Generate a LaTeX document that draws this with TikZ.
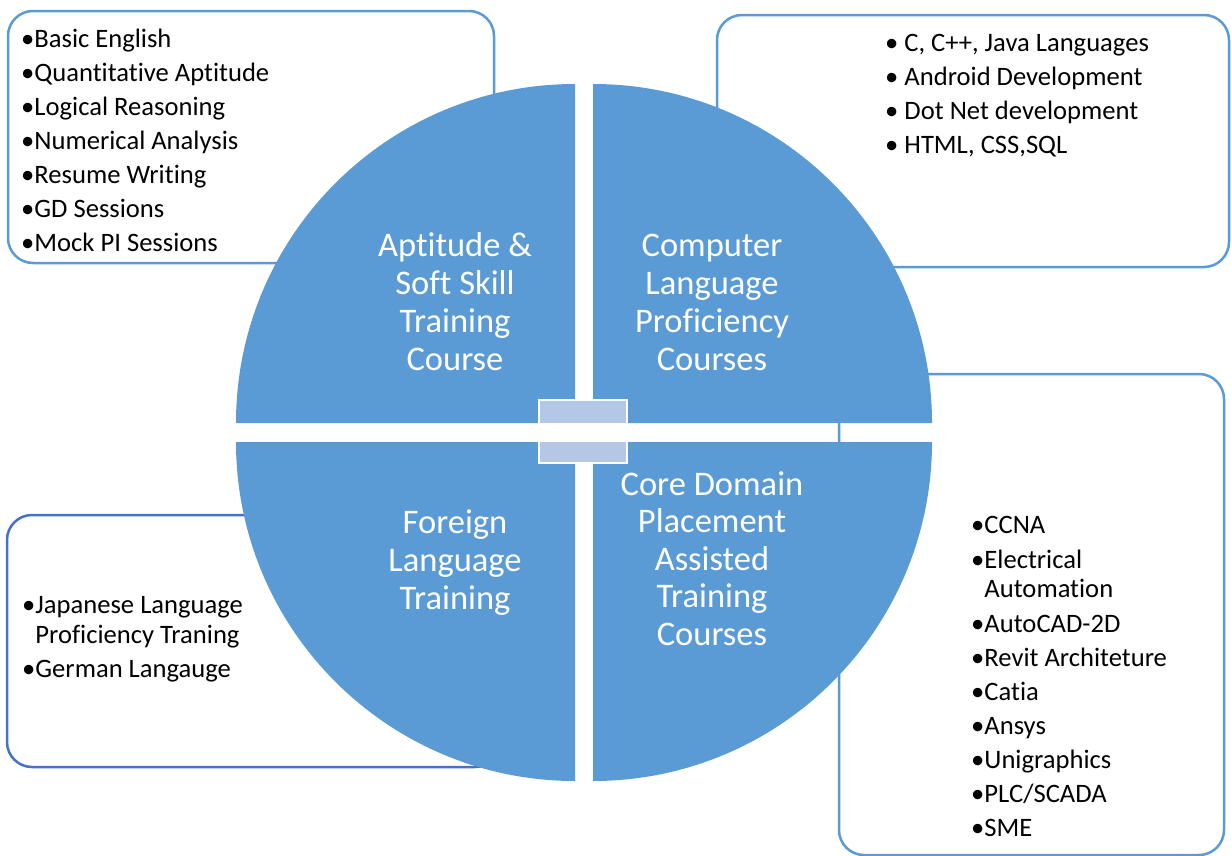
\documentclass[tikz,border=0pt]{standalone}
\usepackage{fontspec}
\setmainfont{Carlito}[Ligatures=NoCommon]
\definecolor{qblue}{RGB}{91,155,213}
\definecolor{bline}{RGB}{91,155,213}
\definecolor{blinedark}{RGB}{68,114,196}
\definecolor{cboxc}{RGB}{180,199,231}
\begin{document}
\begin{tikzpicture}[x=1bp,y=-1bp,
  listbox/.style={draw=bline,line width=2.5bp,rounded corners=25bp,fill=white},
  quad/.style={fill=qblue},
  qtext/.style={text=white,font=\fontsize{34.5bp}{38bp}\selectfont,inner sep=0pt,anchor=base},
  ltext/.style={font=\fontsize{26.6bp}{31bp}\selectfont,inner sep=0pt,anchor=base west},
  centerbox/.style={fill=cboxc,draw=white,line width=2bp}]
\useasboundingbox (0,0) rectangle (1231,856);
% list boxes (behind the circle)
\draw[listbox] (8,11) rectangle (494,263);
\draw[listbox] (717,15) rectangle (1229,267);
\draw[listbox] (839,374) rectangle (1224,855);
\draw[listbox,draw=blinedark] (7,515) rectangle (500,767);
% quadrants
\fill[quad] (575,423) -- (236,423) arc[start angle=180,end angle=90,radius=339bp] -- cycle;
\fill[quad] (593,423) -- (593,84) arc[start angle=90,end angle=0,radius=339bp] -- cycle;
\fill[quad] (575,442) -- (236,442) arc[start angle=180,end angle=270,radius=339bp] -- cycle;
\fill[quad] (593,442) -- (932,442) arc[start angle=0,end angle=-90,radius=339bp] -- cycle;
% centre boxes
\draw[centerbox] (539,400) rectangle (627,424);
\draw[centerbox] (539,441) rectangle (627,463);
% quadrant texts
\foreach \t [count=\i] in {Aptitude \&,Soft Skill,Training,Course}
  \node[qtext] (tl\i) at (455,{256+38*(\i-1)}) {\t};
\foreach \t [count=\i] in {Computer,Language,Proficiency,Courses}
  \node[qtext] (tr\i) at (712,{256+38*(\i-1)}) {\t};
\foreach \t [count=\i] in {Foreign,Language,Training}
  \node[qtext] (bl\i) at (455,{533+38*(\i-1)}) {\t};
\foreach \t [count=\i] in {Core Domain,Placement,Assisted,Training,Courses}
  \node[qtext] (br\i) at (712,{495+37.5*(\i-1)}) {\t};
% top-left list
\foreach \t [count=\i] in {Basic English,Quantitative Aptitude,Logical Reasoning,Numerical Analysis,Resume Writing,GD Sessions,Mock PI Sessions}
  \node[ltext] (la\i) at (21,{47+34*(\i-1)}) {•\t};
% top-right list
\foreach \t [count=\i] in {{C, C++, Java Languages},Android Development,Dot Net development,{HTML, CSS,SQL}}
  \node[ltext] (lb\i) at (885,{51+34*(\i-1)}) {• \t};
% bottom-right list
\node[ltext] (lc1) at (971,533) {•CCNA};
\node[ltext] (lc2) at (971,568) {•Electrical};
\node[ltext] (lc3) at (971,597) {\hphantom{•}Automation};
\node[ltext] (lc4) at (971,632) {•AutoCAD-2D};
\node[ltext] (lc5) at (971,666) {•Revit Architeture};
\node[ltext] (lc6) at (971,700) {•Catia};
\node[ltext] (lc7) at (971,734) {•Ansys};
\node[ltext] (lc8) at (971,768) {•Unigraphics};
\node[ltext] (lc9) at (971,802) {•PLC/SCADA};
\node[ltext] (lc10) at (971,836) {•SME};
% bottom-left list
\node[ltext] (ld1) at (22,613) {•Japanese Language};
\node[ltext] (ld2) at (22,643) {\hphantom{•}Proficiency Traning};
\node[ltext] (ld3) at (22,677) {•German Langauge};
\end{tikzpicture}
\end{document}
